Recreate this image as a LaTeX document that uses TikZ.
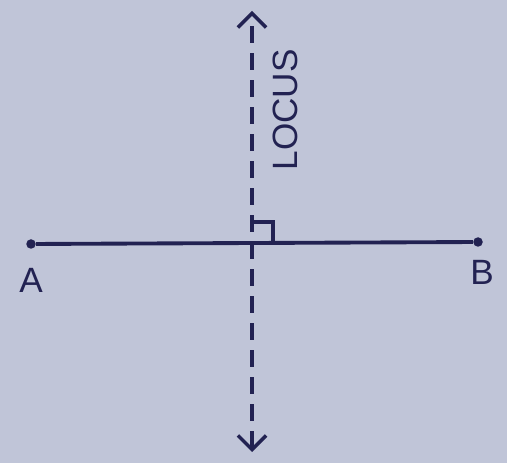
\documentclass[tikz,border=0pt]{standalone}
\usepackage{fontspec}
\setmainfont{Liberation Sans}
\usetikzlibrary{positioning,arrows.meta,calc}
\definecolor{inkblue}{RGB}{34,34,82}
\definecolor{paper}{RGB}{192,197,216}

\begin{document}
\begin{tikzpicture}[x=0.02cm,y=0.02cm,
  dot/.style={circle,fill=inkblue,inner sep=0pt,minimum size=0.19cm},
  lbl/.style={text=inkblue,font=\fontsize{20}{22}\selectfont,inner sep=0pt},
  seg/.style={draw=inkblue,line width=2.2pt},
  loc/.style={draw=inkblue,line width=2pt,dash pattern=on 0.34cm off 0.2cm,
              {Straight Barb[length=8pt,width=16pt]}-{Straight Barb[length=8pt,width=16pt]}}
]
\fill[paper] (0,0) rectangle (507,463);
\useasboundingbox (0,0) rectangle (507,463);
\node[dot] (A) at (31,219) {};
\node[dot] (B) at (478,221) {};
\node[lbl] (la) at (31,183) {A};
\node[lbl] (lb) at (482,191) {B};
\coordinate (top) at (252,452);
\coordinate (bot) at (252,11);
\coordinate (foot) at (252,220);
\draw[seg] (A) -- (B);
\draw[loc] (bot) -- (top);
% right angle mark
\draw[draw=inkblue,line width=1.9pt] ($(foot)+(0,21)$) -- ++(21,0) -- ++(0,-21);
\node[lbl,rotate=90] (locus) at (285,353) {LOCUS};
\end{tikzpicture}
\end{document}
